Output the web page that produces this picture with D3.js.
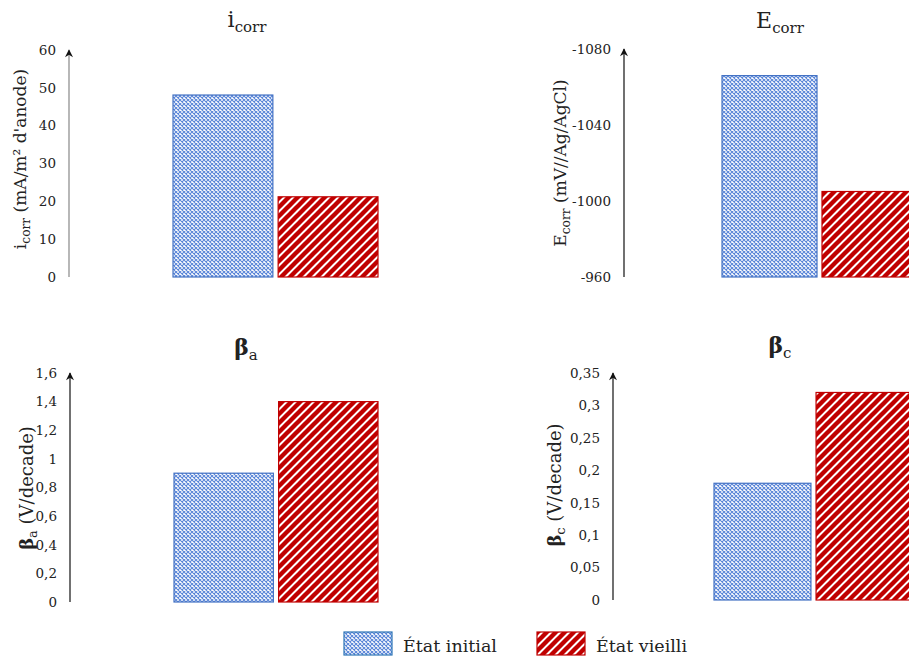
<!DOCTYPE html>
<html><head><meta charset="utf-8">
<script src="https://cdn.jsdelivr.net/npm/d3@7/dist/d3.min.js"></script>
<style>body{margin:0;background:#fff}svg{display:block}text{font-family:"DejaVu Serif",serif;fill:#222}</style>
</head><body><svg id="c" width="909" height="658"></svg>
<script>
const categories = ["État initial", "État vieilli"];
const icorrValues = [48.1, 21.2];
const ecorrValues = [-1066, -1005];
const betaAValues = [0.90, 1.40];
const betaCValues = [0.18, 0.32];
const icorrTicks = [0, 10, 20, 30, 40, 50, 60];
const ecorrTicks = [-960, -1000, -1040, -1080];
const betaATicks = [0, 0.2, 0.4, 0.6, 0.8, 1, 1.2, 1.4, 1.6];
const betaCTicks = [0, 0.05, 0.1, 0.15, 0.2, 0.25, 0.3, 0.35];

const svg = d3.select("#c");
const defs = svg.append("defs");
// blue pattern
const pb = defs.append("pattern").attr("id","pBlue").attr("patternUnits","userSpaceOnUse").attr("width",4).attr("height",4);
pb.append("rect").attr("width",4).attr("height",4).attr("fill","#fff");
pb.append("path").attr("d","M0,0 L4,4 M4,0 L0,4").attr("stroke","#5a86d8").attr("stroke-width",1.1);
// red pattern
const pr = defs.append("pattern").attr("id","pRed").attr("patternUnits","userSpaceOnUse").attr("width",9).attr("height",9);
pr.append("rect").attr("width",9).attr("height",9).attr("fill","#fff");
pr.append("path").attr("d","M-2,2 L2,-2 M0,9 L9,0 M7,11 L11,7").attr("stroke","#c00000").attr("stroke-width",4.4);
defs.append("marker").attr("id","arr").attr("viewBox","0 0 10 10").attr("refX",9).attr("refY",5)
  .attr("markerWidth",10).attr("markerHeight",8).attr("markerUnits","userSpaceOnUse").attr("orient","auto")
  .append("path").attr("d","M0,0 L10,5 L0,10 L3,5 Z").attr("fill","#111");

const fills = ["url(#pBlue)","url(#pRed)"];
const strokes = ["#4472c4","#c00000"];
const fmt = d => String(d).replace(".", ",");

const panels = [
  {vals: icorrValues, ticks: icorrTicks, dom:[0,60], y0:277, y1:50, ax:69, bx:[173,378], axisColor:"#888",
   title:[["i",""],["corr","sub"]], tx:247, ty:27, label:[["i",""],["corr","sub"],[" (mA/m² d'anode)",""]], lx:26, ly:159, ls:17},
  {vals: ecorrValues, ticks: ecorrTicks, dom:[-960,-1080], y0:277, y1:49, ax:624, bx:[722,917], axisColor:"#111",
   title:[["E",""],["corr","sub"]], tx:780, ty:28, label:[["E",""],["corr","sub"],[" (mV//Ag/AgCl)",""]], lx:566, ly:163, ls:17},
  {vals: betaAValues, ticks: betaATicks, dom:[0,1.6], y0:602, y1:373, ax:70, bx:[174,378], axisColor:"#111",
   title:[["β","b"],["a","sub"]], tx:246, ty:355, label:[["β","b"],["a","sub"],[" (V/decade)",""]], lx:33, ly:488, ls:18},
  {vals: betaCValues, ticks: betaCTicks, dom:[0,0.35], y0:600, y1:373, ax:613, bx:[714,913], axisColor:"#111",
   title:[["β","b"],["c","sub"]], tx:780, ty:353, label:[["β","b"],["c","sub"],[" (V/decade)",""]], lx:561, ly:485, ls:18}
];

function addRich(t, parts, mainSize, subSize){
  let prevSub=false;
  parts.forEach(([s,k])=>{
    const ts = t.append("tspan").text(s);
    if(k==="sub"){ ts.attr("font-size",subSize).attr("dy", mainSize*0.22); }
    else {
      ts.attr("font-size",mainSize);
      if(k==="b") ts.attr("font-weight","bold");
      if(prevSub) ts.attr("dy", -mainSize*0.22);
    }
    prevSub = k==="sub";
  });
}

panels.forEach(p=>{
  const y = d3.scaleLinear().domain(p.dom).range([p.y0, p.y1]);
  const x = d3.scaleBand().domain(categories).range(p.bx).paddingInner(0.05);
  const g = svg.append("g");
  const axis = d3.axisLeft(y).tickValues(p.ticks).tickSize(0).tickPadding(13).tickFormat(fmt);
  const ag = g.append("g").attr("transform",`translate(${p.ax},0)`).call(axis);
  ag.select(".domain").remove();
  ag.selectAll("text").attr("font-family","DejaVu Serif").attr("font-size",13.5).attr("fill","#222");
  g.append("line").attr("x1",p.ax).attr("x2",p.ax).attr("y1",p.y0).attr("y2",p.y1)
    .attr("stroke",p.axisColor).attr("stroke-width",1.2).attr("marker-end","url(#arr)");
  g.selectAll("rect.bar").data(p.vals).join("rect").attr("class","bar")
    .attr("x",(d,i)=>x(categories[i])).attr("width",x.bandwidth())
    .attr("y",d=>y(d)).attr("height",d=>p.y0-y(d))
    .attr("fill",(d,i)=>fills[i]).attr("stroke",(d,i)=>strokes[i]).attr("stroke-width",1.2);
  const t = g.append("text").attr("x",p.tx).attr("y",p.ty).attr("text-anchor","middle");
  addRich(t, p.title, 22, 15);
  const l = g.append("text").attr("text-anchor","middle").attr("transform",`translate(${p.lx},${p.ly}) rotate(-90)`);
  addRich(l, p.label, p.ls, p.ls*0.72);
});

// legend
const lg = svg.append("g");
const lx = [344, 537];
categories.forEach((c,i)=>{
  lg.append("rect").attr("x",lx[i]).attr("y",632).attr("width",48).attr("height",23)
    .attr("fill",fills[i]).attr("stroke",i===0?"#2e75b6":strokes[i]).attr("stroke-width",1.2);
  lg.append("text").attr("x",lx[i]+59).attr("y",652).attr("font-size",17.5).text(c);
});
</script></body></html>
